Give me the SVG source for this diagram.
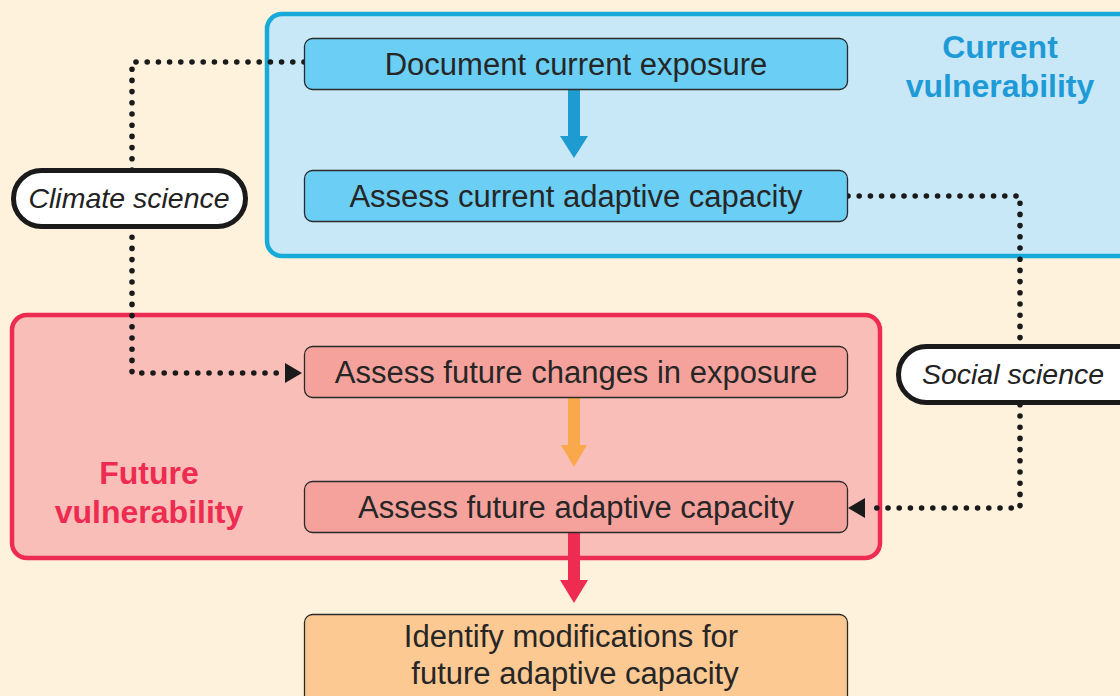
<svg xmlns="http://www.w3.org/2000/svg" width="1120" height="696" viewBox="0 0 1120 696">
<style>
.box{stroke:#2a2a2a;stroke-width:1.3}
.blue{fill:#6bcff5}
.red{fill:#f5a29c}
.ora{fill:#fcc993}
.t{font-family:"Liberation Sans",Arial,sans-serif;font-size:31px;fill:#262626;text-anchor:middle}
.ti{font-family:"Liberation Sans",Arial,sans-serif;font-size:28.5px;font-style:italic;fill:#222;text-anchor:middle}
.h{font-family:"Liberation Sans",Arial,sans-serif;font-size:32px;font-weight:bold;text-anchor:middle}
.pill{fill:#fff;stroke:#1a1a1a;stroke-width:5}
.dot{fill:none;stroke:#1a1a1a;stroke-width:5.6;stroke-linecap:round;stroke-dasharray:0 11.2}
</style>
<defs>
<marker id="tri" markerUnits="userSpaceOnUse" viewBox="0 0 17 20" refX="17" refY="10" markerWidth="17" markerHeight="20" orient="auto">
<path d="M0,0 L17,10 L0,20 z" fill="#1a1a1a"/>
</marker>
</defs>
<rect width="1120" height="696" fill="#fef2dc"/>
<g id="current-vulnerability">
<rect x="267" y="14" width="880" height="242" rx="15" fill="#c8e8f8" stroke="#15aad8" stroke-width="4.5"/>
<text class="h" x="1000" y="58" fill="#1e9bd7">Current</text>
<text class="h" x="1000" y="97" fill="#1e9bd7">vulnerability</text>
</g>
<g id="future-vulnerability">
<rect x="12" y="315" width="868" height="243" rx="15" fill="#f9beb8" stroke="#ee2b50" stroke-width="4.5"/>
<text class="h" x="149" y="484" fill="#ee2b50">Future</text>
<text class="h" x="149" y="523" fill="#ee2b50">vulnerability</text>
</g>
<g id="connectors">
<path class="dot" d="M304,62 H132 V373 H287"/>
<path d="M287,373 H302" stroke="none" fill="none" marker-end="url(#tri)"/>
<path class="dot" d="M848,196 H1020 V508 H866"/>
<path d="M866,508 H848" stroke="none" fill="none" marker-end="url(#tri)"/>
<rect x="568" y="89" width="12" height="48" fill="#1e9bd0"/>
<path d="M560,136 H588 L574,158 z" fill="#1e9bd0"/>
<rect x="568" y="398" width="12" height="48" fill="#f9a94b"/>
<path d="M561,445 H587 L574,467 z" fill="#f9a94b"/>
<rect x="568" y="532" width="12" height="49" fill="#ee2b50"/>
<path d="M560,580 H588 L574,603 z" fill="#ee2b50"/>
</g>
<g id="document-current-exposure">
<rect class="box blue" x="304.5" y="38.5" width="543" height="51" rx="8"/>
<text class="t" x="576" y="75">Document current exposure</text>
</g>
<g id="assess-current-adaptive-capacity">
<rect class="box blue" x="304.5" y="170.5" width="543" height="51" rx="8"/>
<text class="t" x="576" y="207">Assess current adaptive capacity</text>
</g>
<g id="assess-future-changes-in-exposure">
<rect class="box red" x="304.5" y="346.5" width="543" height="51" rx="8"/>
<text class="t" x="576" y="383">Assess future changes in exposure</text>
</g>
<g id="assess-future-adaptive-capacity">
<rect class="box red" x="304.5" y="481.5" width="543" height="51" rx="8"/>
<text class="t" x="576" y="518">Assess future adaptive capacity</text>
</g>
<g id="identify-modifications">
<rect class="box ora" x="304.5" y="614.5" width="543" height="100" rx="8"/>
<text class="t" x="571" y="647">Identify modifications for</text>
<text class="t" x="575" y="684">future adaptive capacity</text>
</g>
<g id="climate-science">
<rect class="pill" x="13.5" y="170.5" width="232" height="56" rx="28"/>
<text class="ti" x="129" y="208">Climate science</text>
</g>
<g id="social-science">
<rect class="pill" x="898.5" y="346.5" width="260" height="56" rx="28"/>
<text class="ti" x="1013" y="384">Social science</text>
</g>
</svg>
